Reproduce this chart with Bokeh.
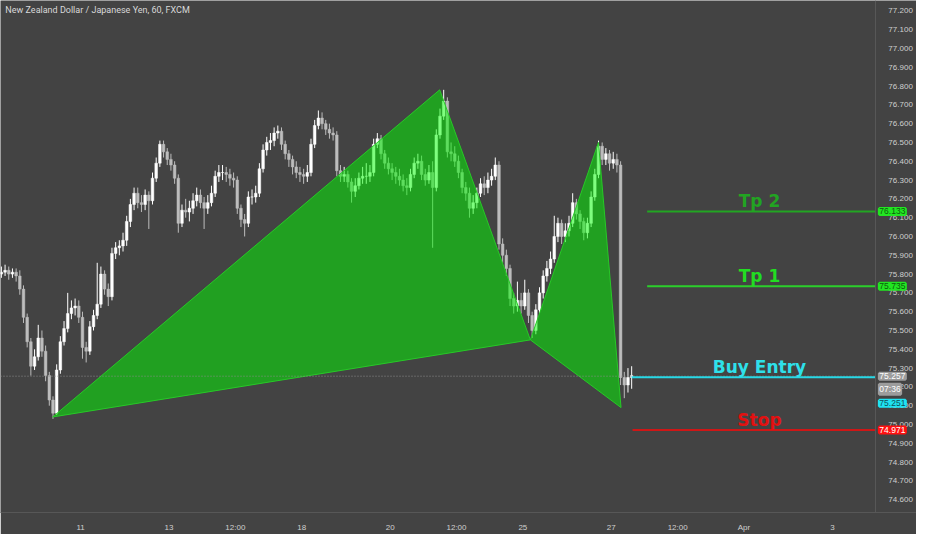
from bokeh.plotting import figure
from bokeh.models import Range1d, FixedTicker, PrintfTickFormatter, Label, LinearAxis
from bokeh.core.properties import value
from bokeh.embed import file_html
from bokeh.resources import INLINE

# NZDJPY, 2-hour bars (x in trading days, 0 = Mar 11)
first_bar_t = -1.79
bar_step = 1 / 12
first_open = 75.80

close = [75.81, 75.82, 75.80, 75.81, 75.79, 75.72, 75.57, 75.44, 75.31, 75.36,
         75.46, 75.39, 75.26, 75.13, 75.06, 75.29, 75.44, 75.51, 75.59, 75.62,
         75.63, 75.57, 75.41, 75.39, 75.52, 75.58, 75.64, 75.80, 75.72, 75.68,
         75.91, 75.94, 75.95, 75.98, 76.08, 76.17, 76.23, 76.18, 76.17, 76.22,
         76.19, 76.31, 76.39, 76.49, 76.45, 76.41, 76.38, 76.31, 76.07, 76.14,
         76.13, 76.15, 76.19, 76.22, 76.18, 76.15, 76.18, 76.23, 76.32, 76.34,
         76.34, 76.33, 76.31, 76.30, 76.15, 76.09, 76.07, 76.21, 76.21, 76.23,
         76.36, 76.46, 76.50, 76.51, 76.55, 76.56, 76.49, 76.44, 76.41, 76.37,
         76.34, 76.33, 76.32, 76.34, 76.49, 76.59, 76.63, 76.60, 76.57, 76.55,
         76.54, 76.35, 76.32, 76.33, 76.29, 76.24, 76.27, 76.31, 76.32, 76.32,
         76.34, 76.49, 76.52, 76.44, 76.39, 76.36, 76.34, 76.32, 76.30, 76.27,
         76.26, 76.33, 76.39, 76.40, 76.33, 76.30, 76.34, 76.26, 76.54, 76.64,
         76.72, 76.45, 76.44, 76.40, 76.34, 76.26, 76.23, 76.15, 76.18, 76.23,
         76.28, 76.26, 76.30, 76.32, 76.38, 75.96, 75.90, 75.83, 75.67, 75.63,
         75.66, 75.63, 75.70, 75.58, 75.50, 75.61, 75.70, 75.79, 75.83, 75.88,
         76.00, 76.07, 76.00, 76.03, 76.07, 76.18, 76.12, 76.08, 76.02, 76.07,
         76.21, 76.33, 76.48, 76.41, 76.44, 76.39, 76.41, 76.38, 75.25, 75.21,
         75.25, 75.26]

high = [75.84, 75.85, 75.84, 75.83, 75.83, 75.82, 75.74, 75.59, 75.46, 75.40,
        75.53, 75.50, 75.42, 75.28, 75.15, 75.32, 75.47, 75.55, 75.70, 75.66,
        75.67, 75.66, 75.60, 75.44, 75.55, 75.61, 75.86, 75.84, 75.82, 75.75,
        75.94, 75.97, 75.98, 76.02, 76.11, 76.20, 76.26, 76.26, 76.22, 76.25,
        76.24, 76.34, 76.42, 76.51, 76.51, 76.47, 76.44, 76.40, 76.33, 76.17,
        76.20, 76.19, 76.23, 76.26, 76.25, 76.21, 76.22, 76.27, 76.35, 76.38,
        76.38, 76.37, 76.36, 76.34, 76.32, 76.17, 76.12, 76.24, 76.25, 76.27,
        76.39, 76.49, 76.53, 76.55, 76.58, 76.59, 76.58, 76.51, 76.46, 76.43,
        76.40, 76.37, 76.36, 76.38, 76.52, 76.62, 76.67, 76.66, 76.62, 76.60,
        76.58, 76.56, 76.38, 76.37, 76.35, 76.31, 76.31, 76.34, 76.37, 76.39,
        76.38, 76.52, 76.55, 76.54, 76.46, 76.42, 76.39, 76.37, 76.36, 76.33,
        76.31, 76.36, 76.42, 76.44, 76.43, 76.36, 76.38, 76.40, 76.57, 76.68,
        76.78, 76.74, 76.50, 76.48, 76.43, 76.36, 76.29, 76.26, 76.22, 76.26,
        76.31, 76.32, 76.34, 76.36, 76.42, 76.40, 75.99, 75.93, 75.85, 75.70,
        75.76, 75.70, 75.77, 75.72, 75.60, 75.64, 75.73, 75.82, 75.87, 75.92,
        76.11, 76.10, 76.09, 76.07, 76.11, 76.23, 76.20, 76.14, 76.10, 76.10,
        76.24, 76.36, 76.51, 76.50, 76.47, 76.46, 76.45, 76.44, 76.40, 75.28,
        75.30, 75.31]

low = [75.78, 75.79, 75.77, 75.78, 75.76, 75.69, 75.54, 75.41, 75.26, 75.29,
       75.34, 75.36, 75.23, 75.10, 75.03, 75.05, 75.27, 75.42, 75.49, 75.56,
       75.58, 75.54, 75.35, 75.33, 75.37, 75.50, 75.56, 75.62, 75.69, 75.63,
       75.66, 75.88, 75.90, 75.92, 75.95, 76.05, 76.14, 76.15, 76.13, 76.14,
       76.04, 76.17, 76.29, 76.37, 76.42, 76.38, 76.35, 76.28, 76.02, 76.05,
       76.10, 76.08, 76.12, 76.16, 76.15, 76.04, 76.12, 76.16, 76.21, 76.29,
       76.30, 76.29, 76.27, 76.26, 76.12, 76.05, 76.00, 76.05, 76.17, 76.18,
       76.21, 76.34, 76.43, 76.46, 76.48, 76.52, 76.46, 76.41, 76.37, 76.33,
       76.31, 76.29, 76.28, 76.29, 76.32, 76.47, 76.57, 76.57, 76.54, 76.52,
       76.51, 76.32, 76.29, 76.29, 76.26, 76.18, 76.21, 76.25, 76.28, 76.28,
       76.29, 76.32, 76.47, 76.41, 76.36, 76.33, 76.30, 76.28, 76.27, 76.24,
       76.22, 76.24, 76.31, 76.36, 76.30, 76.27, 76.28, 75.94, 76.24, 76.52,
       76.62, 76.42, 76.40, 76.37, 76.31, 76.23, 76.19, 76.10, 76.12, 76.15,
       76.21, 76.22, 76.23, 76.27, 76.30, 75.93, 75.86, 75.79, 75.63, 75.59,
       75.60, 75.59, 75.61, 75.54, 75.46, 75.48, 75.59, 75.67, 75.76, 75.80,
       75.86, 75.97, 75.96, 75.97, 76.00, 76.05, 76.09, 76.04, 75.98, 75.99,
       76.05, 76.19, 76.31, 76.38, 76.38, 76.35, 76.36, 76.34, 75.21, 75.14,
       75.17, 75.19]

# harmonic pattern points X, A, B, C, D
pattern_t = [-0.63, 8.12, 10.17, 11.71, 12.22]
pattern_p = [75.04, 76.78, 75.45, 76.50, 75.09]

# trade levels
tp2 = 76.133
tp1 = 75.735
entry = 75.251
stop = 74.971
last_price = 75.257
countdown = "07:36"

# date labels on the time axis
date_ticks = [0, 2, 3.5, 5, 7, 8.5, 10, 12, 13.5, 15, 17]
date_labels = ["11", "13", "12:00", "18", "20", "12:00", "25", "27", "12:00", "Apr", "3"]

price_ticks = [74.6, 74.7, 74.8, 74.9, 75.0, 75.1, 75.2, 75.3, 75.4, 75.5, 75.6, 75.7,
               75.8, 75.9, 76.0, 76.1, 76.2, 76.3, 76.4, 76.5, 76.6, 76.7, 76.8, 76.9,
               77.0, 77.1, 77.2]

title = "New Zealand Dollar / Japanese Yen, 60, FXCM"

BG = "#434343"
x0 = -1.81      # left edge of the chart
x1 = 17.97      # where the price scale starts
x_end = 18.90   # right edge of the price scale
y0, y1 = 74.532, 77.255

p = figure(width=916, height=534, x_range=Range1d(x0, x_end), y_range=Range1d(y0, y1),
           y_axis_location=None, output_backend="svg", toolbar_location=None,
           background_fill_color=BG, border_fill_color=BG,
           min_border_left=0, min_border_top=0, min_border_right=0, min_border_bottom=0)
p.grid.visible = False
p.outline_line_color = None

# price scale drawn inside the plot area, at the right edge of the chart
yax = LinearAxis(fixed_location=x1, ticker=FixedTicker(ticks=price_ticks),
                 formatter=PrintfTickFormatter(format="%.3f"))
p.add_layout(yax, "right")

for ax in (p.xaxis[0], yax):
    ax.axis_line_color = "#575757"
    ax.major_tick_line_color = None
    ax.minor_tick_line_color = None
    ax.major_label_text_color = "#cfcfcf"
    ax.major_label_text_font = "Liberation Sans"
    ax.major_label_text_font_size = "8px"
    ax.major_label_standoff = 4
yax.major_label_standoff = 7

p.xaxis.ticker = FixedTicker(ticks=date_ticks)
p.xaxis.major_label_overrides = dict(zip(date_ticks, date_labels))

# candles
n = min(len(close), len(high), len(low))
opens = [first_open] + close[:n - 1]
xs = [first_bar_t + i * bar_step for i in range(n)]
cols = ["#ffffff" if close[i] >= opens[i] else "#bdbdbd" for i in range(n)]
p.segment(x0=xs, y0=low[:n], x1=xs, y1=high[:n], color=cols, line_width=1)
p.vbar(x=xs, width=0.06, top=[max(o, c) for o, c in zip(opens, close)],
       bottom=[min(o, c) for o, c in zip(opens, close)], fill_color=cols, line_color=cols,
       line_width=0.5)

# XAB and BCD triangles
p.patch(pattern_t[0:3], pattern_p[0:3], fill_color="#00fd00", fill_alpha=0.5,
        line_color="#27c927", line_width=1)
p.patch(pattern_t[2:5], pattern_p[2:5], fill_color="#00fd00", fill_alpha=0.5,
        line_color="#27c927", line_width=1)

# last price dotted line
p.segment(x0=[x0], y0=[last_price], x1=[x1], y1=[last_price], line_color="#8c8c8c",
          line_dash="1 2", line_width=1)

# trade levels
levels = [(tp2, 12.81, "Tp 2", "#22a622", "#22a422"),
          (tp1, 12.81, "Tp 1", "#2bcf2b", "#22dd22"),
          (entry, 12.46, "Buy Entry", "#27d8e6", "#2ee0ea"),
          (stop, 12.48, "Stop", "#cf1616", "#e21111")]
for lvl, start, txt, lc, tc in levels:
    p.segment(x0=[start], y0=[lvl], x1=[x1], y1=[lvl], line_color=lc, line_width=2)
    p.text(x=[15.35], y=[lvl], text=[txt], text_font=value("DejaVu Sans"),
           text_font_style="bold", text_font_size="17px", text_align="center",
           text_baseline="bottom", text_color=tc)

# title
p.add_layout(Label(x=x0 + 0.11, y=y1 - 0.025, text=title, text_baseline="top",
                   text_font="Roboto", text_font_size="9px", text_color="#d8d8d8"))

# price boxes on the price scale
boxes = [(tp2, 0, f"{tp2:.3f}", "#22e622", "#0d5c0d"),
         (tp1, 0, f"{tp1:.3f}", "#22e622", "#0d5c0d"),
         (last_price, 0, f"{last_price:.3f}", "#9c9c9c", "#ffffff"),
         (last_price, -13, countdown, "#9c9c9c", "#ffffff"),
         (entry, -26, f"{entry:.3f}", "#1fe3f2", "#10505a"),
         (stop, 0, f"{stop:.3f}", "#ff1010", "#ffffff")]
for lvl, off, txt, bg, fg in boxes:
    p.add_layout(Label(x=x1, y=lvl, x_offset=4, y_offset=off, text=txt,
                       text_baseline="middle", text_align="left",
                       text_font="Liberation Sans", text_font_size="8.5px",
                       text_color=fg, background_fill_color=bg,
                       border_line_color=bg, border_line_width=3))

open("out.html", "w").write(file_html(p, INLINE))
